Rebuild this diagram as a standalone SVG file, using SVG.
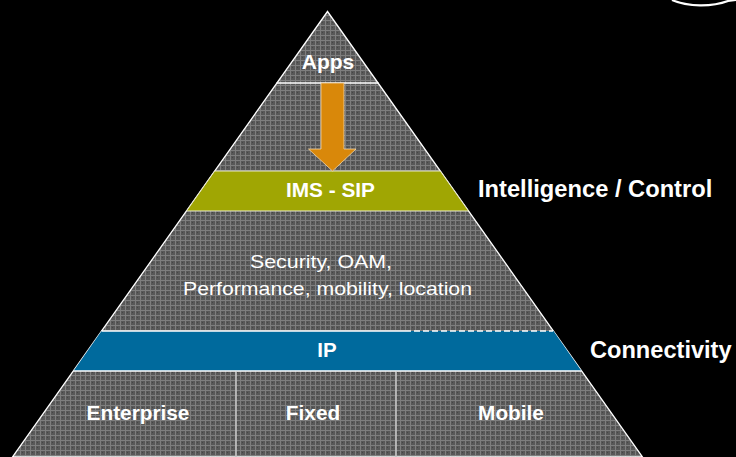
<svg xmlns="http://www.w3.org/2000/svg" width="736" height="457" viewBox="0 0 736 457">
  <defs>
    <pattern id="tex" width="5" height="5" patternUnits="userSpaceOnUse">
      <rect width="5" height="5" fill="#585858"/>
      <rect width="1" height="5" fill="#7e7e7e"/>
      <rect width="5" height="1" fill="#7e7e7e"/>
      <rect x="2" y="2" width="1" height="1" fill="#454545"/>
    </pattern>
  </defs>
  <style>
    .bold { font-family: "Liberation Sans", Arial, sans-serif; font-weight: bold; fill: #ffffff; }
    .reg { font-family: "Liberation Sans", Arial, sans-serif; fill: #ffffff; }
    .edge { stroke: #ffffff; stroke-width: 1.3; fill: none; }
    .div { stroke: #c4c4c4; stroke-width: 1.6; }
  </style>
  <rect width="736" height="457" fill="#000000"/>
  <path d="M672,0 C688,7 712,7 728,1 L736,0" stroke="#ffffff" stroke-width="2.2" fill="none"/>

  <g id="pyramid">
    <polygon points="327.5,11.5 12.5,457 642.5,457" fill="url(#tex)" stroke="#ffffff" stroke-width="1.3"/>
  </g>

  <g id="apps">
    <line class="edge" x1="276.5" y1="83" x2="378.5" y2="83"/>
    <text class="bold" x="328" y="69" font-size="21" text-anchor="middle">Apps</text>
  </g>

  <g id="ims-sip">
    <polygon points="214.7,171 440.3,171 468.5,211 186.5,211" fill="#a0a603" stroke="#e8e8d0" stroke-width="1"/>
    <text class="bold" x="330.5" y="196.5" font-size="20.8" text-anchor="middle">IMS - SIP</text>
  </g>

  <g id="services">
    <text class="reg" x="321" y="268.3" font-size="19" text-anchor="middle" textLength="142" lengthAdjust="spacingAndGlyphs">Security, OAM,</text>
    <text class="reg" x="327.5" y="295" font-size="19" text-anchor="middle" textLength="289" lengthAdjust="spacingAndGlyphs">Performance, mobility, location</text>
  </g>

  <g id="ip">
    <polygon points="101.5,331 553.5,331 581.5,371 73.5,371" fill="#006a9d"/>
    <line class="edge" x1="101.5" y1="331" x2="405" y2="331"/>
    <line x1="405" y1="331" x2="553" y2="331" stroke="#ffffff" stroke-width="1.3" stroke-dasharray="6,3"/>
    <line class="edge" x1="73.5" y1="371" x2="581.5" y2="371"/>
    <text class="bold" x="327" y="356.5" font-size="20.5" text-anchor="middle">IP</text>
  </g>

  <g id="access">
    <line class="div" x1="236" y1="372" x2="236" y2="457"/>
    <line class="div" x1="396" y1="372" x2="396" y2="457"/>
  </g>
  <g id="enterprise">
    <text class="bold" x="138" y="420" font-size="20.8" text-anchor="middle">Enterprise</text>
  </g>
  <g id="fixed">
    <text class="bold" x="313" y="420" font-size="20.8" text-anchor="middle">Fixed</text>
  </g>
  <g id="mobile">
    <text class="bold" x="511" y="420" font-size="20.8" text-anchor="middle">Mobile</text>
  </g>

  <g id="label-intelligence">
    <text class="bold" x="478" y="196.5" font-size="23.7">Intelligence / Control</text>
  </g>
  <g id="label-connectivity">
    <text class="bold" x="590" y="358" font-size="23.6">Connectivity</text>
  </g>

  <g id="connectors">
    <polygon points="321,83 344,83 344,149 356,149 332.5,171 308.5,149 321,149" fill="#d9880a" stroke="#f3d6a8" stroke-width="0.8"/>
  </g>
</svg>
